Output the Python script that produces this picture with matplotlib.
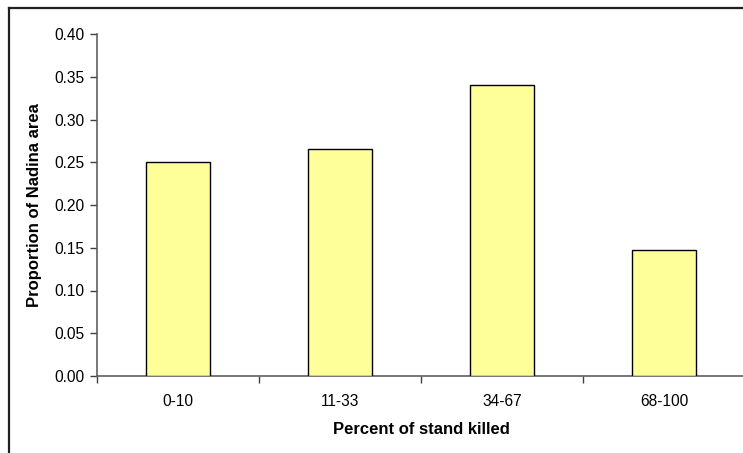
import matplotlib
matplotlib.use("Agg")
import matplotlib.pyplot as plt
from matplotlib.lines import Line2D

plt.rcParams['font.family'] = ['Liberation Sans', 'DejaVu Sans']

categories = ['0-10', '11-33', '34-67', '68-100']
proportion = [0.25, 0.265, 0.34, 0.147]
yticks = [0.00, 0.05, 0.10, 0.15, 0.20, 0.25, 0.30, 0.35, 0.40]

W, H = 743, 453
fig = plt.figure(figsize=(W / 100, H / 100), dpi=100)
ax = fig.add_axes([97 / W, 77 / H, 648 / W, 342 / H])

x = range(len(categories))
ax.bar(x, proportion, width=0.4, color='#FFFF99', edgecolor='black', linewidth=1.0, zorder=3)

ax.set_xlim(-0.5, len(categories) - 0.5)
ax.set_ylim(0, 0.4)
ax.set_yticks(yticks)
ax.set_yticklabels(['%.2f' % v for v in yticks], fontsize=11.2)
ax.set_xticks(list(x))
ax.set_xticklabels(categories, fontsize=11.2)
ax.set_xticks([i - 0.5 for i in range(len(categories) + 1)], minor=True)
ax.tick_params(axis='x', which='major', length=0, pad=13)
ax.tick_params(axis='x', which='minor', length=5, width=1, color='#404040', direction='out')
ax.tick_params(axis='y', length=5, width=1, color='#404040', direction='out', pad=4)

for side in ('top', 'right'):
    ax.spines[side].set_visible(False)
for side in ('left', 'bottom'):
    ax.spines[side].set_color('#606060')
    ax.spines[side].set_linewidth(1.2)

ax.set_xlabel('Percent of stand killed', fontsize=12, fontweight='bold', labelpad=9)
ax.set_ylabel('Proportion of Nadina area', fontsize=12, fontweight='bold', labelpad=9)

# chart area frame (left and top edges)
fig.add_artist(Line2D([8.5 / W, 8.5 / W], [0, 1 - 7.5 / H], color='#202020', linewidth=1.6, transform=fig.transFigure))
fig.add_artist(Line2D([8.5 / W, 1], [1 - 7.5 / H, 1 - 7.5 / H], color='#202020', linewidth=1.6, transform=fig.transFigure))

fig.savefig('out.png', dpi=100)
